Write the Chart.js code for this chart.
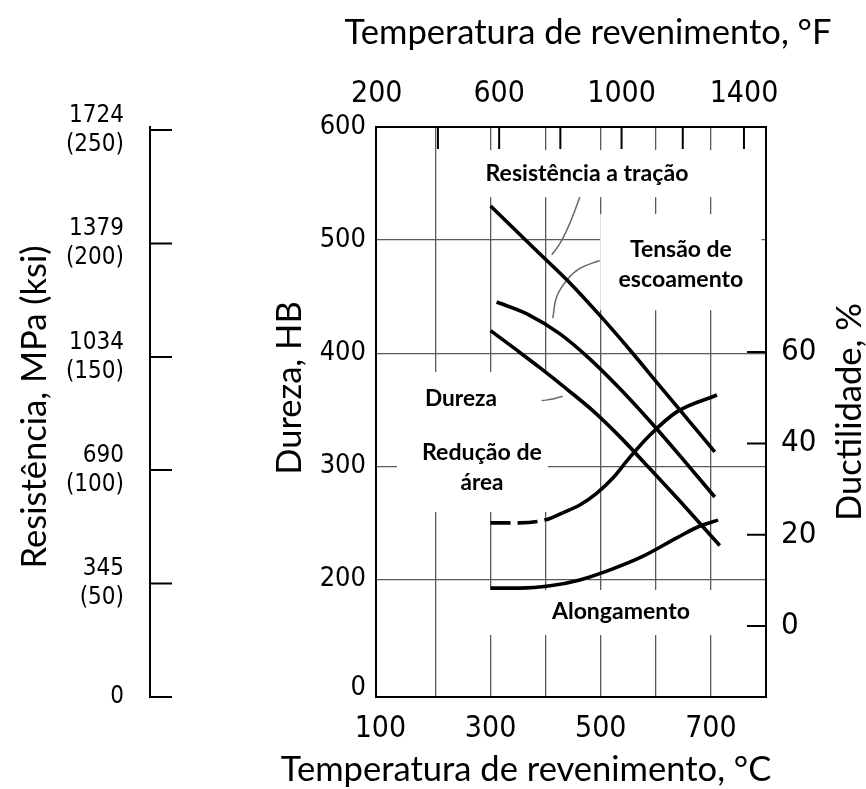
<!DOCTYPE html>
<html>
<head>
<meta charset="utf-8">
<script src="https://cdn.jsdelivr.net/npm/chart.js@4.4.1/dist/chart.umd.min.js"></script>
<style>
html,body{margin:0;padding:0;background:#fff;}
#wrap{width:866px;height:789px;position:relative;}
canvas{display:block;}
</style>
</head>
<body>
<div id="wrap"><canvas id="c" width="866" height="789"></canvas></div>
<script>
// ---------------- data ----------------
const tensileTempC    = [300, 384, 444, 498, 553, 607, 662, 707];
const tensileMPa      = [1493, 1356, 1259, 1161, 1055, 946, 836, 745];

const yieldTempC      = [311, 366, 426, 480, 535, 589, 644, 707];
const yieldMPa        = [1201, 1165, 1104, 1028, 937, 839, 733, 608];

const hardnessTempC   = [300, 344, 390, 439, 486, 535, 589, 644, 716];
const hardnessHB      = [420, 404, 387, 368, 349, 326, 298, 269, 230];

const reductionTempC  = [300, 353, 404, 431, 462, 493, 522, 553, 589, 638, 711];
const reductionPct    = [22.6, 22.6, 23.4, 24.8, 26.5, 29.1, 32.4, 37.0, 41.8, 46.9, 50.6];
const reductionDashedUntilC = 431;

const elongationTempC = [300, 353, 408, 462, 517, 577, 638, 680, 713];
const elongationPct   = [8.3, 8.3, 8.8, 10.1, 12.3, 15.3, 19.3, 21.9, 23.2];

// thin leader lines (°C, HB)
const leaderTensileC  = [411, 426, 444, 462];
const leaderTensileHB = [487, 497, 515, 538];
const leaderYieldC    = [413, 420, 439, 462, 498];
const leaderYieldHB   = [431, 450, 465, 475, 482];
const leaderHardC     = [393, 413, 431];
const leaderHardHB    = [358, 359.5, 362];

// tick labels
const tempCTicks      = [100, 200, 300, 400, 500, 600, 700];
const tempCLabels     = [100, 300, 500, 700];
const tempFLabels     = [200, 600, 1000, 1400];
const tempFMarks      = [400, 600, 800, 1000, 1200, 1400];
const hbTicks         = [0, 200, 300, 400, 500, 600];
const ductTicks       = [0, 20, 40, 60];
const mpaTicks        = [0, 345, 690, 1034, 1379, 1724];
const ksiTicks        = [0, 50, 100, 150, 200, 250];

// ---------------- helpers ----------------
const pts = (xs, ys) => xs.map((x, i) => ({x: x, y: ys[i]}));
const cToF = c => c * 1.8 + 32;
const HB_MIN = 96, HB_BREAK = 104;   // HB axis is broken between 0 and 200
const mctx = document.createElement('canvas').getContext('2d');
function widthOf(font, text) { mctx.font = font; return mctx.measureText(text).width; }
function fitSize(text, weight, family, target) {
  return 100 * target / widthOf(weight + ' 100px ' + family, text);
}
// choose a narrow face for the tick numbers if one is installed
let TICK_FAMILY = "Roboto, sans-serif", TICK_WEIGHT = 'normal';
(function () {
  const probe = '0123456789';
  const mono = widthOf('100px monospace', probe);
  if (widthOf("100px 'Liberation Sans Narrow', monospace", probe) !== mono) {
    TICK_FAMILY = "'Liberation Sans Narrow', sans-serif"; return;
  }
  const dv = widthOf("100px 'DejaVu Sans'", probe);
  widthOf('100px monospace', probe);
  const dvc = widthOf("condensed 100px 'DejaVu Sans'", probe);
  if (dvc < dv * 0.95) { TICK_FAMILY = "'DejaVu Sans', sans-serif"; TICK_WEIGHT = 'condensed'; }
})();
const TITLE_FAMILY = "Lato, 'Open Sans', sans-serif";
const titleSize = fitSize('Temperatura de revenimento, °F', 'normal', TITLE_FAMILY, 487);

const curve = {borderColor: '#000', borderWidth: 3.6, pointRadius: 0, fill: false,
               cubicInterpolationMode: 'monotone', borderCapStyle: 'butt'};
const leader = {borderColor: '#6a6a6a', borderWidth: 1.5, pointRadius: 0, fill: false, tension: 0.4};

// annotation texts (positions in °C / HB)
const textLabels = [
  {t: 'Resistência a tração', x: 475, y: 558.4, w: 203},
  {t: 'Tensão de',            x: 645.5, y: 491.2, w: 102},
  {t: 'escoamento',           x: 645.5, y: 464.7, w: 125},
  {t: 'Dureza',               x: 246.3, y: 359.5, w: 72},
  {t: 'Redução de',           x: 284.4, y: 312.6, w: 120},
  {t: 'área',                 x: 284.4, y: 285.2, w: 43},
  {t: 'Alongamento',          x: 536.6, y: 171.2, w: 138}
];
// white boxes behind those texts (°C / HB)
const whiteBoxes = [
  {x0: 263, x1: 789, y0: 538, y1: 579.6},
  {x0: 499, x1: 792, y0: 438, y1: 523},
  {x0: 130, x1: 404, y0: 259.6, y1: 383.4},
  {x0: 290, x1: 789, y0: 150.8, y1: 190.6}
];

const titles = [
  {t: 'Temperatura de revenimento, °F', cx: 588, cy: 33, rot: 0},
  {t: 'Temperatura de revenimento, °C', cx: 526, cy: 770, rot: 0},
  {t: 'Resistência, MPa (ksi)', cx: 35, cy: 407, rot: -Math.PI / 2},
  {t: 'Dureza, HB', cx: 290, cy: 388, rot: -Math.PI / 2},
  {t: 'Ductilidade, %', cx: 850, cy: 412, rot: -Math.PI / 2}
];

const decorPlugin = {
  id: 'decor',
  beforeDatasetsDraw(chart) {
    const c = chart.ctx, sx = chart.scales.x, sy = chart.scales.y;
    c.save();
    c.fillStyle = '#fff';
    whiteBoxes.forEach(b => {
      const x0 = sx.getPixelForValue(b.x0), x1 = sx.getPixelForValue(b.x1);
      const y0 = sy.getPixelForValue(b.y1), y1 = sy.getPixelForValue(b.y0);
      c.fillRect(x0, y0, x1 - x0, y1 - y0);
    });
    c.restore();
  },
  afterDraw(chart) {
    const c = chart.ctx, a = chart.chartArea, s = chart.scales;
    c.save();
    // inward tick marks
    c.strokeStyle = '#000'; c.lineWidth = 2;
    c.beginPath();
    ductTicks.forEach(v => { const y = s.y1.getPixelForValue(v); c.moveTo(a.right, y); c.lineTo(a.right - 19, y); });
    tempFMarks.forEach(v => { const x = s.x2.getPixelForValue(v); c.moveTo(x, a.top); c.lineTo(x, a.top + 22); });
    const bx = s.yMPa.right;
    mpaTicks.forEach(v => { const y = s.yMPa.getPixelForValue(v); c.moveTo(bx, y); c.lineTo(bx + 22, y); });
    c.stroke();
    // annotation texts
    c.fillStyle = '#000'; c.textAlign = 'center'; c.textBaseline = 'middle';
    textLabels.forEach(l => {
      const sz = fitSize(l.t, 'bold', TITLE_FAMILY, l.w);
      c.font = 'bold ' + sz.toFixed(2) + 'px ' + TITLE_FAMILY;
      c.fillText(l.t, s.x.getPixelForValue(l.x), s.y.getPixelForValue(l.y));
    });
    // axis titles
    titles.forEach(t => {
      c.save();
      c.translate(t.cx, t.cy); c.rotate(t.rot);
      c.font = 'normal ' + titleSize.toFixed(2) + 'px ' + TITLE_FAMILY;
      c.fillText(t.t, 0, 0);
      c.restore();
    });
    c.restore();
  }
};

const gridColor = '#5a5a5a';
const tickFont = size => ({family: TICK_FAMILY, weight: TICK_WEIGHT, size: size});

new Chart(document.getElementById('c'), {
  type: 'line',
  data: {
    datasets: [
      Object.assign({label: 'Resistência a tração', data: pts(tensileTempC, tensileMPa), yAxisID: 'yMPa'}, curve),
      Object.assign({label: 'Tensão de escoamento', data: pts(yieldTempC, yieldMPa), yAxisID: 'yMPa'}, curve),
      Object.assign({label: 'Dureza', data: pts(hardnessTempC, hardnessHB), yAxisID: 'y'}, curve),
      Object.assign({label: 'Redução de área', data: pts(reductionTempC, reductionPct), yAxisID: 'y1',
        segment: {borderDash: ctx => (ctx.p1.parsed.x <= reductionDashedUntilC ? [20, 7] : undefined)}}, curve),
      Object.assign({label: 'Alongamento', data: pts(elongationTempC, elongationPct), yAxisID: 'y1'}, curve),
      Object.assign({label: 'l1', data: pts(leaderTensileC, leaderTensileHB), yAxisID: 'y'}, leader),
      Object.assign({label: 'l2', data: pts(leaderYieldC, leaderYieldHB), yAxisID: 'y'}, leader),
      Object.assign({label: 'l3', data: pts(leaderHardC, leaderHardHB), yAxisID: 'y'}, leader)
    ]
  },
  options: {
    responsive: false,
    animation: false,
    layout: {padding: 0},
    plugins: {legend: {display: false}, tooltip: {enabled: false}},
    scales: {
      x: {
        type: 'linear', position: 'bottom', min: 92, max: 800,
        afterBuildTicks: s => { s.ticks = tempCTicks.map(v => ({value: v})); },
        afterFit: s => { s.height = 92; },
        ticks: {autoSkip: false, maxRotation: 0, padding: 14, color: '#000', font: tickFont(30),
                callback: v => (tempCLabels.includes(v) ? String(v) : '')},
        grid: {drawTicks: false, lineWidth: 1.3,
               color: c => (c.tick && c.tick.value === 100 ? 'rgba(0,0,0,0)' : gridColor)},
        border: {display: true, color: '#000', width: 2}
      },
      x2: {
        type: 'linear', position: 'top', min: cToF(92), max: cToF(800),
        afterBuildTicks: s => { s.ticks = tempFLabels.map(v => ({value: v})); },
        afterFit: s => { s.height = 127; },
        ticks: {autoSkip: false, maxRotation: 0, padding: 15, color: '#000', font: tickFont(30),
                callback: v => String(v)},
        grid: {display: false, drawTicks: false},
        border: {display: true, color: '#000', width: 2}
      },
      yMPa: {
        type: 'linear', position: 'left', weight: 2, min: 0, max: 1733,
        afterBuildTicks: s => { s.ticks = mpaTicks.map(v => ({value: v})); },
        afterFit: s => { s.width = 150; },
        ticks: {padding: 26, color: '#000', font: Object.assign(tickFont(24), {lineHeight: 29 / 24}),
                callback: (v, i) => (v === 0 ? '0' : [String(v), '(' + ksiTicks[i] + ')'])},
        grid: {display: false, drawTicks: false},
        border: {display: true, color: '#000', width: 2}
      },
      y: {
        type: 'linear', position: 'left', weight: 1, min: HB_MIN, max: 600,
        afterBuildTicks: s => { s.ticks = hbTicks.map(v => ({value: v === 0 ? HB_BREAK : v})); },
        afterFit: s => { s.width = 226; },
        ticks: {padding: 10, color: '#000', font: tickFont(27),
                callback: v => (v === HB_BREAK ? '0' : String(v))},
        grid: {drawTicks: false, lineWidth: 1.3,
               color: c => (c.tick && (c.tick.value === HB_BREAK || c.tick.value === 600) ? 'rgba(0,0,0,0)' : gridColor)},
        border: {display: true, color: '#000', width: 2}
      },
      y1: {
        type: 'linear', position: 'right', min: -15.55, max: 109.3,
        afterBuildTicks: s => { s.ticks = ductTicks.map(v => ({value: v})); },
        afterFit: s => { s.width = 100; },
        ticks: {padding: 15, color: '#000', font: tickFont(31), callback: v => String(v)},
        grid: {display: false, drawTicks: false},
        border: {display: true, color: '#000', width: 2}
      }
    }
  },
  plugins: [decorPlugin]
});
</script>
</body>
</html>
